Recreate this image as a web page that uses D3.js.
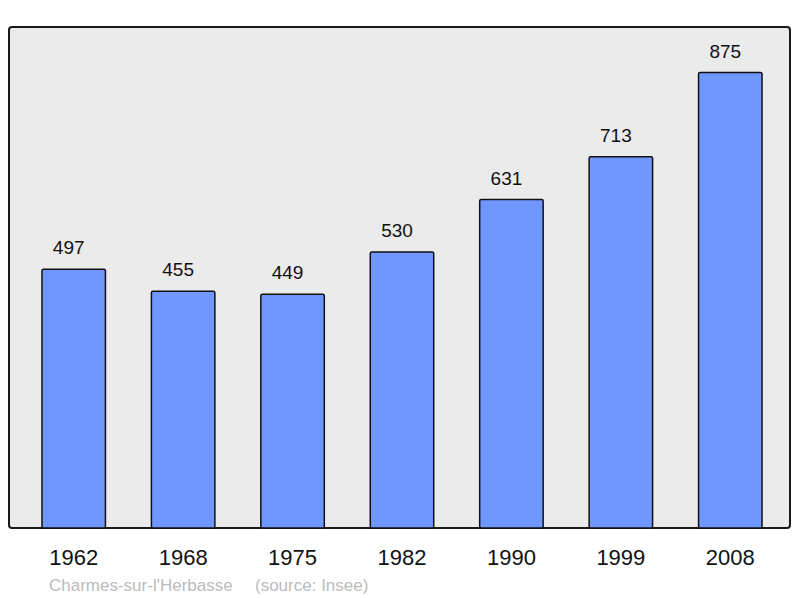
<!DOCTYPE html>
<html>
<head>
<meta charset="utf-8">
<script src="https://cdn.jsdelivr.net/npm/d3@7"></script>
<style>
  body { margin: 0; background: #fff; }
  text { font-family: "Liberation Sans", Arial, sans-serif; }
</style>
</head>
<body>
<div id="chart"></div>
<script>
// data
var years = ["1962", "1968", "1975", "1982", "1990", "1999", "2008"];
var population = [497, 455, 449, 530, 631, 713, 875];
var town = "Charmes-sur-l'Herbasse";
var source = "(source: Insee)";

var width = 800, height = 598;
// plot frame
var frame = {left: 9, top: 27, right: 790, bottom: 528};

var svg = d3.select("#chart")
  .append("svg")
    .attr("width", width)
    .attr("height", height);

// grey panel
svg.append("rect")
  .attr("x", frame.left)
  .attr("y", frame.top)
  .attr("width", frame.right - frame.left)
  .attr("height", frame.bottom - frame.top)
  .attr("rx", 3)
  .attr("fill", "#ebebeb")
  .attr("stroke", "#1a1a1a")
  .attr("stroke-width", 2);

var x = d3.scaleBand()
  .domain(years)
  .range([19, 785])
  .paddingInner(0.42)
  .paddingOuter(0.21);

var y = d3.scaleLinear()
  .domain([0, d3.max(population) * 1.1])
  .range([frame.bottom, frame.top]);

var data = years.map(function(d, i) { return {year: d, value: population[i]}; });

// bars
svg.selectAll(".bar")
  .data(data)
  .enter().append("rect")
    .attr("class", "bar")
    .attr("x", function(d) { return x(d.year); })
    .attr("y", function(d) { return y(d.value); })
    .attr("width", x.bandwidth())
    .attr("height", function(d) { return frame.bottom - y(d.value); })
    .attr("rx", 1.5)
    .attr("fill", "#7096ff")
    .attr("stroke", "#111")
    .attr("stroke-width", 1.5);

// value labels
svg.selectAll(".val")
  .data(data)
  .enter().append("text")
    .attr("class", "val")
    .attr("x", function(d) { return x(d.year) + x.bandwidth() / 2 - 5; })
    .attr("y", function(d) { return y(d.value) - 15; })
    .attr("text-anchor", "middle")
    .style("font-size", "19px")
    .attr("fill", "#111")
    .text(function(d) { return d.value; });

// year axis, no line, no ticks
var xAxis = svg.append("g")
  .attr("transform", "translate(0," + frame.bottom + ")")
  .call(d3.axisBottom(x).tickSize(0).tickPadding(0));
xAxis.select(".domain").remove();
xAxis.selectAll("text")
  .attr("y", 37)
  .attr("dy", null)
  .style("font-size", "22px")
  .style("font-family", "'Liberation Sans', Arial, sans-serif")
  .attr("fill", "#111");

// footer
svg.append("text")
  .attr("x", 49)
  .attr("y", 590.5)
  .style("font-size", "17px")
  .attr("fill", "#bbbbbb")
  .text(town);
svg.append("text")
  .attr("x", 255)
  .attr("y", 590.5)
  .style("font-size", "17px")
  .attr("fill", "#bbbbbb")
  .text(source);
</script>
</body>
</html>
